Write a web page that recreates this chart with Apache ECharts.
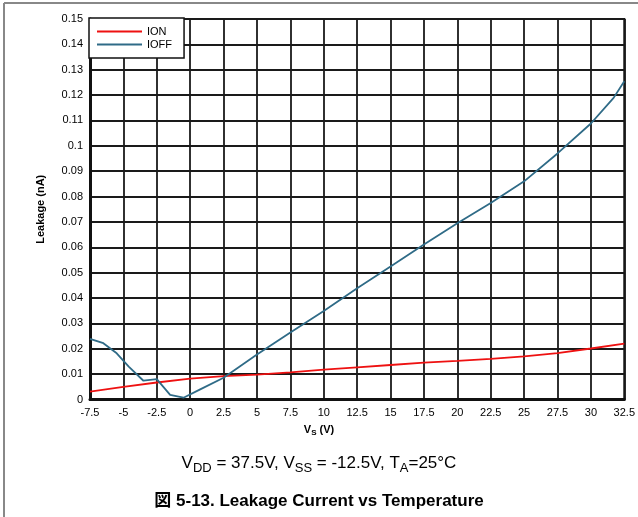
<!DOCTYPE html>
<html>
<head>
<meta charset="utf-8">
<script src="https://cdn.jsdelivr.net/npm/echarts@6/dist/echarts.min.js"></script>
<style>
html,body{margin:0;padding:0;background:#fff;}
#c{width:638px;height:517px;}
</style>
</head>
<body>
<div id="c"></div>
<script>
const ionX = [-7.5, -5, -2.5, 0, 2.5, 5, 7.5, 10, 12.5, 15, 17.5, 20, 22.5, 25, 27.5, 30, 32.5];
const ionY = [0.0031, 0.0050, 0.0067, 0.0082, 0.0092, 0.0098, 0.0107, 0.0118, 0.0127, 0.0136, 0.0145, 0.0152, 0.0160, 0.0170, 0.0183, 0.0201, 0.0220];
const ioffX = [-7.5, -6.5, -5.5, -4.6, -3.5, -2.5, -1.5, -0.5, 0.75, 2.5, 5, 7.5, 10, 12.5, 15, 17.5, 20, 22.5, 25, 27.5, 30, 31.7, 32.5];
const ioffY = [0.0239, 0.0222, 0.0182, 0.0130, 0.0074, 0.0080, 0.0018, 0.0007, 0.0040, 0.0086, 0.0177, 0.0264, 0.0349, 0.0439, 0.0524, 0.0611, 0.0695, 0.0775, 0.0860, 0.0970, 0.1088, 0.1189, 0.1255];
const seriesNames = ['ION', 'IOFF'];
const xTitle = 'V{s|S} (V)';
const condText = 'V{s|DD} = 37.5V, V{s|SS} = -12.5V, T{s|A}=25°C';
const figTitle = '図 5-13. Leakage Current vs Temperature';

const FONT = '"Liberation Sans", Arial, "Noto Sans CJK JP", sans-serif';
const pairs = (xs, ys) => xs.map((x, i) => [x, ys[i]]);
const RED = '#ee1111', BLUE = '#2f6b87';

const chart = echarts.init(document.getElementById('c'), null, {renderer: 'canvas'});
chart.setOption({
  animation: false,
  backgroundColor: '#fff',
  textStyle: {fontFamily: FONT},
  grid: {left: 90, right: 12, top: 19, bottom: 117.5, show: true, borderColor: '#111', borderWidth: 2, containLabel: false},
  xAxis: {
    type: 'value', min: -7.5, max: 32.5, interval: 2.5,
    axisLine: {show: true, onZero: false, lineStyle: {color: '#111', width: 3}},
    axisTick: {show: false},
    splitLine: {show: true, lineStyle: {color: '#1a1a1a', width: 1.8}},
    axisLabel: {color: '#000', fontSize: 11, fontFamily: FONT, margin: 8, showMaxLabel: true, showMinLabel: true}
  },
  yAxis: {
    type: 'value', min: 0, max: 0.15, interval: 0.01,
    name: 'Leakage (nA)', nameLocation: 'middle', nameGap: 44,
    nameTextStyle: {fontSize: 11, fontWeight: 'bold', color: '#000', fontFamily: FONT},
    axisLine: {show: true, onZero: false, lineStyle: {color: '#111', width: 3}},
    axisTick: {show: false},
    splitLine: {show: true, lineStyle: {color: '#1a1a1a', width: 1.8}},
    axisLabel: {color: '#000', fontSize: 11, fontFamily: FONT, margin: 7,
      formatter: v => String(Math.round(v * 100) / 100)}
  },
  legend: {
    left: 89, top: 18, orient: 'vertical',
    padding: [7, 12, 7, 8], itemGap: 0, itemWidth: 45, itemHeight: 2,
    icon: 'rect',
    backgroundColor: '#fff', borderColor: '#111', borderWidth: 1.5, borderRadius: 0,
    textStyle: {fontSize: 11, color: '#000', fontFamily: FONT, lineHeight: 13},
    data: seriesNames
  },
  series: [
    {name: seriesNames[0], type: 'line', symbol: 'none', data: pairs(ionX, ionY),
     lineStyle: {color: RED, width: 1.8}, itemStyle: {color: RED}, z: 3},
    {name: seriesNames[1], type: 'line', symbol: 'none', data: pairs(ioffX, ioffY),
     lineStyle: {color: BLUE, width: 1.8}, itemStyle: {color: BLUE}, z: 4}
  ],
  graphic: [
    {type: 'line', shape: {x1: 4, y1: 3, x2: 638, y2: 3}, style: {stroke: '#888', lineWidth: 2}, silent: true},
    {type: 'line', shape: {x1: 4, y1: 3, x2: 4, y2: 517}, style: {stroke: '#888', lineWidth: 2}, silent: true},
    {type: 'text', left: 'center', top: 422, z: 10, x: -12,
     style: {text: xTitle, fill: '#000', font: 'bold 11px ' + FONT, lineHeight: 15,
       rich: {s: {fontSize: 8, fontWeight: 'bold', fontFamily: FONT, lineHeight: 8, verticalAlign: 'bottom'}}}},
    {type: 'text', left: 'center', top: 451, z: 10, x: 14,
     style: {text: condText, fill: '#000', font: '17px ' + FONT, lineHeight: 24,
       rich: {s: {fontSize: 13, fontFamily: FONT, lineHeight: 12, verticalAlign: 'bottom'}}}},
    {type: 'text', left: 'center', top: 493, z: 10, x: 11,
     style: {text: figTitle, fill: '#000', font: 'bold 17px ' + FONT}}
  ]
});
</script>
</body>
</html>
